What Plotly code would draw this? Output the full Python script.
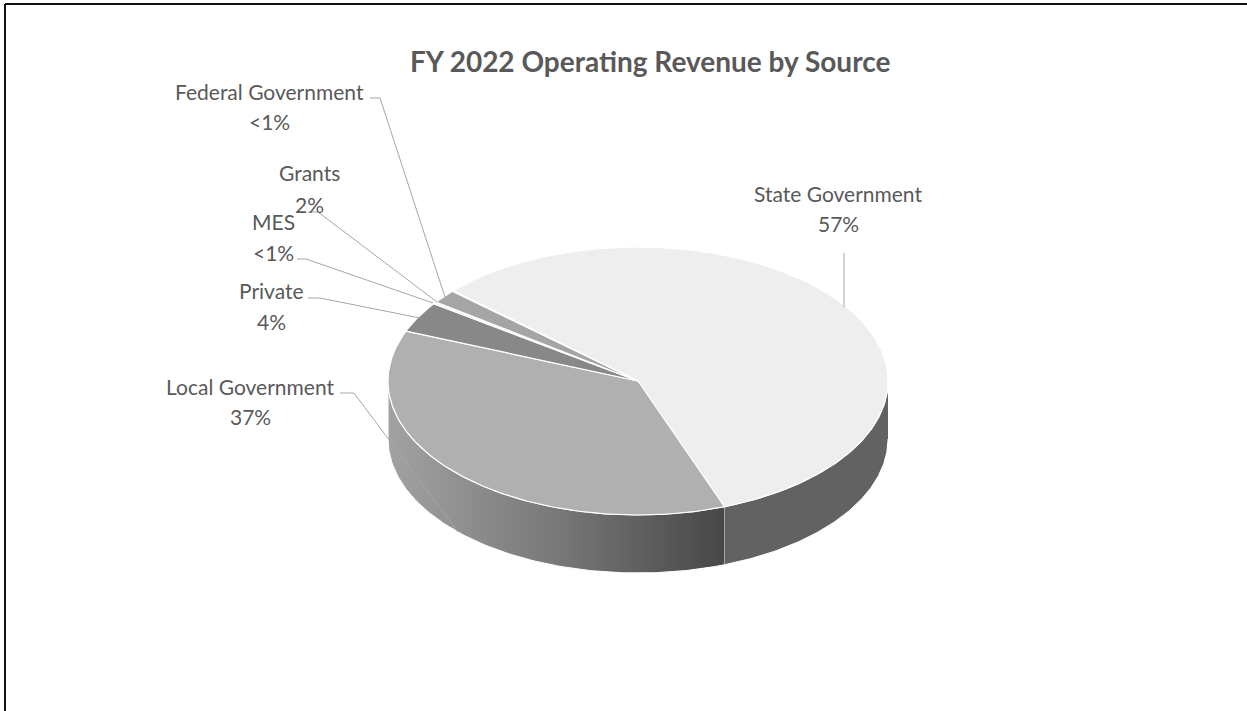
import numpy as np
import plotly.graph_objects as go

# ---- data ----
categories = ["State Government", "Local Government", "Private", "MES", "Grants", "Federal Government"]
values = [57.6, 36.7, 3.7, 0.25, 1.65, 0.1]
pct_labels = ["57%", "37%", "4%", "<1%", "2%", "<1%"]
title_text = "FY 2022 Operating Revenue by Source"

# ---- style / layout ----
W, H = 1247, 711
CX, CY, RX, RY, DEPTH = 638, 381, 250, 134, 58
START = -47.6
top_colors = ["#EEEEEE", "#B0B0B0", "#888888", "#F4F4F4", "#A5A5A5", "#C8C8C8"]
TEXT = "#595959"
LEAD = "#A6A6A6"
label_pos = [(838, 193, 223), (250, 386, 416), (271, 290, 321), (273, 221, 252), (309, 172, 204), (269, 91, 121)]
leaders = [
    [(844, 253), (844, 307)],
    [(340, 393), (354, 393), (458, 532)],
    [(308, 298), (320, 298), (420, 318)],
    [(297, 259), (306, 259), (433, 303)],
    [(308, 212), (318, 212), (437, 302)],
    [(370, 98), (380, 98), (445, 297)],
]


def ex(t):
    return CX + RX * np.sin(np.radians(t))


def ey(t):
    return CY - RY * np.cos(np.radians(t))


fig = go.Figure()

bounds = START + np.concatenate([[0], np.cumsum(values)]) * 360 / sum(values)


def wall(t0, t1, **style):
    t = np.linspace(t0, t1, 120)
    xs = np.concatenate([ex(t), ex(t[::-1])])
    ys = np.concatenate([ey(t), ey(t[::-1]) + DEPTH])
    fig.add_trace(go.Scatter(x=xs, y=ys, mode="lines", fill="toself", hoverinfo="skip",
                             line=dict(color="#FFFFFF", width=1), **style))


# side walls of the slices facing the viewer
wall(90, bounds[1], fillcolor="#626262")
wall(bounds[1], 270, fillgradient=dict(type="horizontal",
     colorscale=[[0, "#A2A2A2"], [0.5, "#787878"], [1, "#474747"]]))

# top faces
for i, c in enumerate(categories):
    t = np.linspace(bounds[i], bounds[i + 1], max(3, int(values[i] * 6)))
    xs = np.concatenate([[CX], ex(t), [CX]])
    ys = np.concatenate([[CY], ey(t), [CY]])
    fig.add_trace(go.Scatter(x=xs, y=ys, mode="lines", fill="toself", fillcolor=top_colors[i],
                             line=dict(color="#FFFFFF", width=1.2), name=c, hoverinfo="name"))

# leader lines
for pts in leaders:
    fig.add_trace(go.Scatter(x=[p[0] for p in pts], y=[p[1] for p in pts], mode="lines",
                             line=dict(color=LEAD, width=1), hoverinfo="skip"))

# labels
ann = [dict(x=650, y=61, text="<b>%s</b>" % title_text, showarrow=False,
            font=dict(family="Lato", size=28, color=TEXT))]
for name, pct, (x, y1, y2) in zip(categories, pct_labels, label_pos):
    ann.append(dict(x=x, y=y1, text=name, showarrow=False, font=dict(family="Lato", size=21, color=TEXT)))
    ann.append(dict(x=x, y=y2, text=pct, showarrow=False, font=dict(family="Lato", size=21, color=TEXT)))
for a in ann:
    a.update(xref="x", yref="y", xanchor="center", yanchor="middle")

frame = dict(type="line", xref="x", yref="y", line=dict(color="#111111", width=2))
fig.update_layout(
    width=W, height=H, margin=dict(l=0, r=0, t=0, b=0), showlegend=False,
    paper_bgcolor="#FFFFFF", plot_bgcolor="#FFFFFF", annotations=ann,
    xaxis=dict(range=[0, W], visible=False, fixedrange=True),
    yaxis=dict(range=[H, 0], visible=False, fixedrange=True),
    shapes=[dict(frame, x0=5, y0=4, x1=W, y1=4), dict(frame, x0=5, y0=4, x1=5, y1=H)],
)
fig.write_html("out.html", config=dict(displayModeBar=False),
               post_script="document.body.style.margin='0';document.body.style.overflow='hidden';")
